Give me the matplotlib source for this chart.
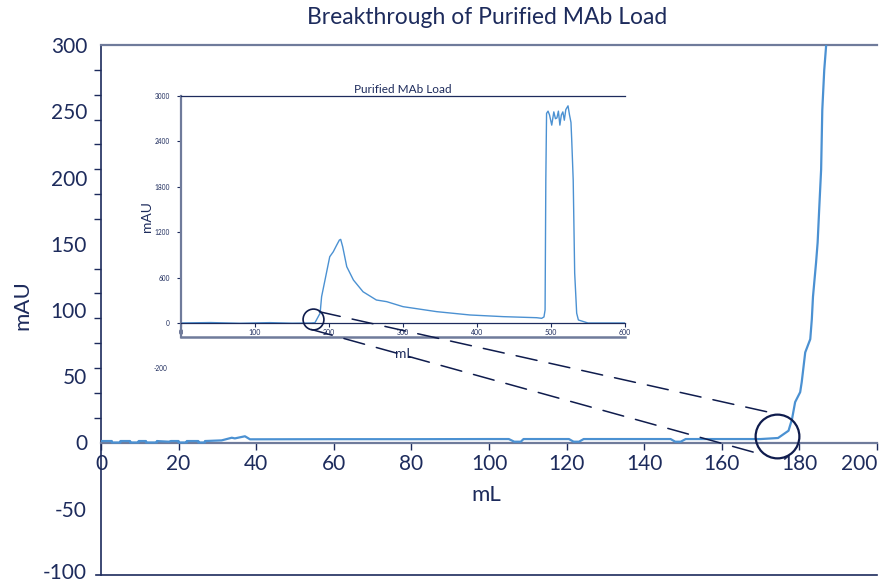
import numpy as np
import matplotlib
matplotlib.use("Agg")
import matplotlib.pyplot as plt
from matplotlib.patches import ConnectionPatch
from matplotlib.ticker import FixedLocator
from matplotlib.transforms import ScaledTranslation

plt.rcParams['font.family'] = ['Lato', 'DejaVu Sans']
plt.rcParams['axes.unicode_minus'] = False

NAVY = '#1d2b5c'
DARK = '#0f1c4d'
GREY = '#6f7b9b'
BLUE = '#4b91d2'

# main chart: breakthrough curve (mL vs mAU)
main_ml = [0, 2.8, 2.8, 5.0, 5.0, 7.5, 7.5, 9.7, 9.7, 11.6, 11.6, 14.4, 14.4,
           17.5, 18.0, 20.0, 20.0, 22.1, 22.1, 25.1, 25.1, 26.8, 26.8, 31.1,
           33.7, 34.5, 37.1, 38.4, 60, 80, 100, 105.1, 106.5, 108.2, 108.9,
           115, 120.6, 121.8, 123.2, 124.4, 135, 146.8, 148.0, 149.4, 150.7,
           160, 170, 174.5, 177.2, 178.1, 178.9, 180.2, 180.6, 181.5, 182.8,
           183.2, 183.5, 184.3, 184.7, 185.1, 185.6, 185.9, 186.4, 186.9, 187.3]
main_mau = [1.1, 1.1, 0, 0, 1.1, 1.1, 0, 0, 1.1, 1.1, 0, 0, 1.1,
            0.6, 1.1, 1.1, 0, 0, 1.1, 1.1, 0, 0, 1.1, 1.6,
            3.6, 3.1, 4.7, 2.4, 2.5, 2.5, 2.6, 2.6, 0.6, 0.6, 2.6,
            2.6, 2.6, 0.6, 0.6, 2.6, 2.6, 2.6, 0.6, 0.6, 2.6,
            2.6, 2.6, 3.4, 8.9, 17.7, 30.5, 38, 45.6, 68, 78,
            93, 110, 136, 151, 176, 206, 251, 281, 300, 320]

# inset: full purified MAb load run
inset_ml = [0, 40, 80, 120, 150, 176, 181, 188, 190, 194.6, 201, 205.8, 210.4,
            214, 215.8, 218.5, 224, 233, 246, 264, 278, 300, 345.5, 390.5,
            435.5, 480.6, 487.4, 490.5, 492, 493, 494, 496, 498, 501, 503.8,
            506, 508, 510, 512, 514, 516, 518, 520, 523, 525, 527, 528, 530,
            532, 534.7, 537, 550, 600]
inset_mau = [0, 6, -4, 5, -3, 0, 4, 130, 348, 568, 876, 942, 1030,
             1096, 1105, 1008, 744, 568, 413, 304, 282, 216, 150, 106,
             84, 70, 62, 80, 172, 1890, 2770, 2800, 2750, 2615, 2790,
             2700, 2710, 2800, 2615, 2750, 2790, 2680, 2820, 2870, 2750, 2650, 2420, 1890,
             660, 130, 40, 0, 0]

main_xticks = np.arange(0, 201, 20)
main_ylabels = np.arange(-100, 301, 50)
main_ymarks = list(np.arange(0, 301, 18.75)) + [-100]
inset_xticks = np.arange(0, 601, 100)
inset_yticks = np.arange(0, 3001, 600)

fig = plt.figure(figsize=(8.89, 5.84), dpi=100)
ax = fig.add_axes([101 / 889, 1 - 575 / 584, 776 / 889, 530 / 584])

ax.plot(main_ml, main_mau, color=BLUE, lw=1.6, zorder=3)
ax.set_xlim(0, 200)
ax.set_ylim(-100, 300)

ax.spines['right'].set_visible(False)
ax.spines['left'].set_color(NAVY)
ax.spines['left'].set_linewidth(1.2)
ax.spines['top'].set_color(GREY)
ax.spines['top'].set_linewidth(1.6)
ax.spines['bottom'].set_position(('data', 0))
ax.spines['bottom'].set_color(GREY)
ax.spines['bottom'].set_linewidth(1.6)
ax.plot([-0.007, 1], [0, 0], transform=ax.transAxes, color=NAVY, lw=1.2, clip_on=False)

ax.set_xticks(main_xticks)
ax.tick_params(axis='x', direction='out', length=5, width=1, color=NAVY,
               labelcolor=NAVY, labelsize=15, pad=3)
ax.get_xticklabels()[-1].set_ha('right')
ax.set_yticks(main_ylabels)
ax.yaxis.set_minor_locator(FixedLocator(main_ymarks))
ax.tick_params(axis='y', which='major', length=0, labelcolor=NAVY, labelsize=15, pad=10)
ax.tick_params(axis='y', which='minor', length=5, width=1, color=NAVY)
# keep the bottom "-100" label inside the picture
low = ax.get_yticklabels()[0]
low.set_transform(low.get_transform() + ScaledTranslation(0, 3 / 72, fig.dpi_scale_trans))

ax.set_xlabel('mL', color=NAVY, fontsize=16)
ax.xaxis.set_label_coords(0.497, 0.170)
ax.set_ylabel('mAU', color=NAVY, fontsize=16)
ax.yaxis.set_label_coords(-0.089, 0.51)

fig.text(487 / 889, 1 - 18 / 584, 'Breakthrough of Purified MAb Load', color=NAVY,
         fontsize=16.5, ha='center', va='center')

# inset
ax_in = fig.add_axes([181 / 889, 1 - 337 / 584, 444 / 889, 241 / 584])
ax_in.patch.set_alpha(0)
ax_in.plot(inset_ml, inset_mau, color=BLUE, lw=1.0)
ax_in.set_xlim(0, 600)
ax_in.set_ylim(-185, 3000)
ax_in.spines['right'].set_visible(False)
ax_in.spines['top'].set_color(NAVY)
ax_in.spines['top'].set_linewidth(0.9)
ax_in.spines['left'].set_color(GREY)
ax_in.spines['left'].set_linewidth(1.6)
ax_in.spines['bottom'].set_position(('data', 0))
ax_in.spines['bottom'].set_color(NAVY)
ax_in.spines['bottom'].set_linewidth(0.9)
ax_in.plot([0, 1], [0, 0], transform=ax_in.transAxes, color=GREY, lw=1.8, clip_on=False)
ax_in.set_xticks(inset_xticks)
ax_in.set_yticks(inset_yticks)
ax_in.tick_params(axis='x', length=3, width=0.8, color=NAVY, labelcolor=NAVY,
                  labelsize=5, pad=1)
ax_in.tick_params(axis='y', length=3, width=0.8, color=NAVY, labelcolor=NAVY,
                  labelsize=4.7, pad=5)
ax_in.text(-0.03, -600, '-200', transform=ax_in.get_yaxis_transform(), ha='right',
           va='center', fontsize=4.7, color=NAVY, clip_on=False)
ax_in.set_title('Purified MAb Load', color=NAVY, fontsize=8.5, pad=2)
ax_in.set_ylabel('mAU', color=NAVY, fontsize=10)
ax_in.yaxis.set_label_coords(-0.062, 0.5)
ax_in.set_xlabel('mL', color=NAVY, fontsize=10)
ax_in.xaxis.set_label_coords(0.503, -0.045)

# zoom circles and dashed connectors
ax.plot([174.3], [5.1], marker='o', ms=31.5, mfc='none', mec=DARK, mew=1.6,
        zorder=5, clip_on=False)
ax_in.plot([178], [49], marker='o', ms=15, mfc='none', mec=DARK, mew=1.2, zorder=5)

for (xa, ya), (xb, yb) in [((186.9, 149), (174.2, 21.5)), ((176.4, -86), (169.9, -8.7))]:
    con = ConnectionPatch(xyA=(xa, ya), coordsA=ax_in.transData,
                          xyB=(xb, yb), coordsB=ax.transData,
                          color=DARK, lw=1.1, linestyle=(0, (14, 8)))
    fig.add_artist(con)

fig.savefig('out.png', dpi=100)
